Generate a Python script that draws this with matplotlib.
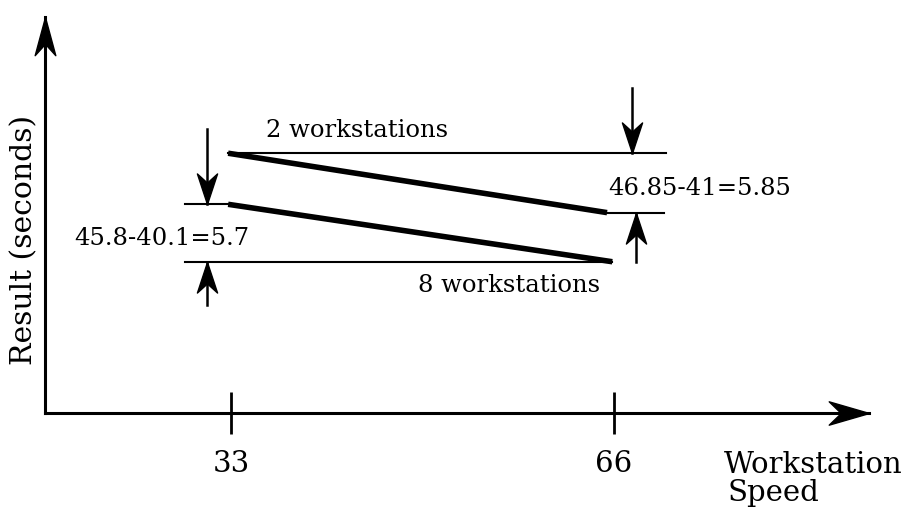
import matplotlib.pyplot as plt
from matplotlib.path import Path

# speeds (x) and result values (arbitrary y units)
speed_2ws = [32.75, 65.4]
result_2ws = [65.6, 50.6]
speed_8ws = [32.75, 65.85]
result_8ws = [52.7, 38.2]
ticks = [33, 66]
tick_labels = ['33', '66']

plt.rcParams['font.family'] = ['DejaVu Serif']


def head(direction, depth=0.3, width=0.25):
    # stealth style arrow head, tip at origin
    pts = [(0, 0), (-width, -1), (0, -1 + depth), (width, -1), (0, 0)]
    if direction == 'down':
        pts = [(x, -y) for x, y in pts]
    elif direction == 'right':
        pts = [(y, x) for x, y in pts]
    return Path(pts, [Path.MOVETO, Path.LINETO, Path.LINETO, Path.LINETO, Path.CLOSEPOLY])


fig = plt.figure(figsize=(9.09, 5.10), dpi=100)
ax = fig.add_axes([45 / 909, (510 - 414) / 510, (869 - 45) / 909, (414 - 18) / 510])
ax.set_xlim(16.97, 87.97)
ax.set_ylim(0, 100)
for s in ['top', 'right']:
    ax.spines[s].set_visible(False)
for s in ['left', 'bottom']:
    ax.spines[s].set_linewidth(2.2)
ax.set_yticks([])
ax.set_xticks(ticks)
ax.set_xticklabels(tick_labels, fontsize=21)
ax.tick_params(axis='x', direction='inout', length=30, width=2, pad=11)

# axis arrow heads
ax.plot([1], [0], marker=head('right', 0.3, 0.29), ms=58, color='black',
        transform=ax.transAxes, clip_on=False)
ax.plot([0], [1], marker=head('up', 0.3, 0.27), ms=55, color='black',
        transform=ax.transAxes, clip_on=False)

# main lines
ax.plot(speed_2ws, result_2ws, color='black', lw=4, solid_capstyle='butt')
ax.plot(speed_8ws, result_8ws, color='black', lw=4, solid_capstyle='butt')

# reference horizontals
ax.plot([speed_2ws[0], 70.5], [result_2ws[0]] * 2, color='black', lw=1.5)
ax.plot([29.0, speed_8ws[0]], [result_8ws[0]] * 2, color='black', lw=1.5)
ax.plot([speed_2ws[1], 70.3], [result_2ws[1]] * 2, color='black', lw=1.5)
ax.plot([29.0, speed_8ws[1]], [result_8ws[1]] * 2, color='black', lw=1.5)


# dimension arrows
def dim_arrow(x, y0, y1, direction):
    ax.plot([x, x], [y0, y1], color='black', lw=1.8)
    ax.plot([x], [y1], marker=head(direction, 0.3, 0.33), ms=44, color='black')


dim_arrow(30.9, 71.6, result_8ws[0], 'down')
dim_arrow(30.9, 27.3, result_8ws[1], 'up')
dim_arrow(67.55, 82.0, result_2ws[0], 'down')
dim_arrow(67.9, 38.2, result_2ws[1], 'up')

ax.text(43.85, 71.5, '2 workstations', fontsize=17.5, ha='center', va='center')
ax.text(56.95, 32.5, '8 workstations', fontsize=17.5, ha='center', va='center')
ax.text(27.07, 44.2, '45.8-40.1=5.7', fontsize=17.5, ha='center', va='center')
ax.text(73.4, 57.0, '46.85-41=5.85', fontsize=17.5, ha='center', va='center')

fig.text(24 / 909, 1 - 240 / 510, 'Result (seconds)', rotation=90, fontsize=21.5,
         ha='center', va='center')
fig.text(724 / 909, 1 - 465 / 510, 'Workstation', fontsize=21, ha='left', va='center')
fig.text(728 / 909, 1 - 493 / 510, 'Speed', fontsize=21, ha='left', va='center')

plt.savefig('out.png', dpi=100)
